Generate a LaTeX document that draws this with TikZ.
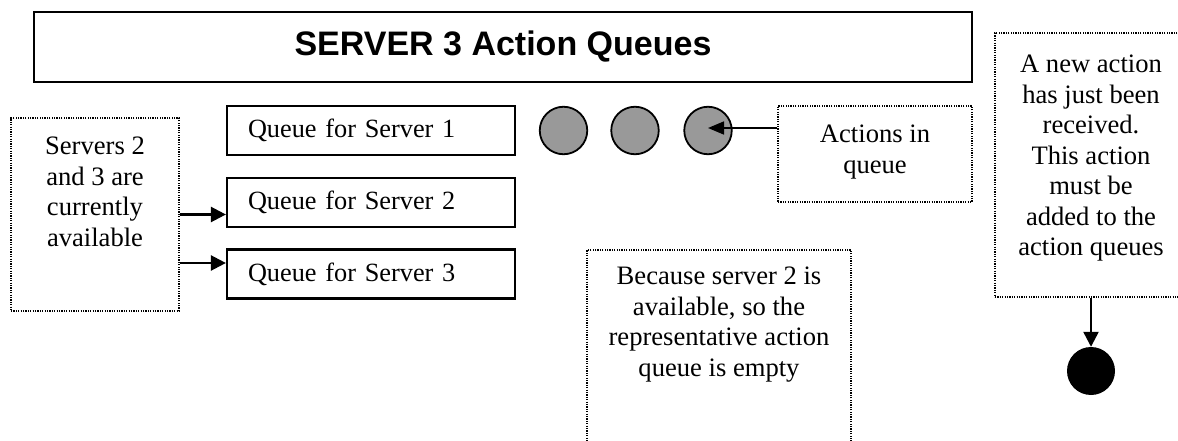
\documentclass[tikz,border=0pt]{standalone}
\usepackage{fontspec}
\setmainfont{Liberation Serif}
\newfontfamily\titlefont{Liberation Sans}
\usetikzlibrary{arrows.meta}
\tikzset{
  solidbox/.style={draw, line width=2.2pt, rectangle, inner sep=0pt},
  notebox/.style={draw, line width=1.3pt, dash pattern=on 1.2pt off 1.2pt, rectangle, inner sep=0pt},
  qbox/.style={solidbox, minimum height=49pt, text width=246pt, inner xsep=21pt,
    align=left, font=\fontsize{26.3}{30.5}\selectfont},
  notetext/.style={anchor=north, inner sep=0pt, align=center, font=\fontsize{26.6}{30.5}\selectfont},
  action/.style={circle, draw, line width=1.8pt, fill=black!40, minimum size=47.5pt, inner sep=0pt},
  newdot/.style={circle, fill=black, minimum size=48pt, inner sep=0pt},
  thickarr/.style={line width=2.4pt, -{Triangle[length=15pt,width=15pt]}},
  thinarr/.style={line width=1.6pt, -{Triangle[length=16pt,width=13pt]}},
}
\begin{document}
\begin{tikzpicture}[x=1pt, y=-1pt]
  \useasboundingbox (0,0) rectangle (1178,441);
  \fill[white] (0,0) rectangle (1178,441);

  % heading
  \node[solidbox, minimum width=938pt, minimum height=70pt,
        font=\titlefont\bfseries\fontsize{34}{40}\selectfont] (title) at (503,47) {SERVER 3 Action Queues};

  % the three action queues
  \node[qbox] (q1) at (371,130.5) {Queue for Server 1};
  \node[qbox] (q2) at (371,202.5) {Queue for Server 2};
  \node[qbox] (q3) at (371,274) {Queue for Server 3};

  % queued actions
  \node[action] (a1) at (563.5,130.5) {};
  \node[action] (a2) at (635,130.5) {};
  \node[action] (a3) at (708,130.5) {};

  % notes
  \node[notebox, minimum width=168pt, minimum height=193pt] (avail) at (95,214.5) {};
  \node[notetext] (availtext) at (95,137) {Servers 2\\and 3 are\\currently\\available};

  \node[notebox, minimum width=194pt, minimum height=96pt] (inq) at (875,154) {};
  \node[notetext] (inqtext) at (875,125) {Actions in\\queue};

  \node[notebox, minimum width=192pt, minimum height=264pt] (newact) at (1091,165) {};
  \node[notetext] (newacttext) at (1091,55) {A new action\\has just been\\received.\\This action\\must be\\added to the\\action queues};

  \node[notebox, minimum width=264pt, minimum height=230pt] (empty) at (719,365) {};
  \node[notetext] (emptytext) at (719,267) {Because server 2 is\\available, so the\\representative action\\queue is empty};

  % the newly received action
  \node[newdot] (new) at (1091,371) {};

  % connectors
  \draw[thickarr] (avail.east) -- (avail.east -| q2.west);
  \draw[thickarr] ([yshift=11pt]q3.west -| avail.east) -- ([yshift=11pt]q3.west);
  \draw[thinarr] ([yshift=2.5pt]a3.center -| inq.west) -- ([yshift=2.5pt]a3.center);
  \draw[thickarr] (newact.south) -- (new.north);
\end{tikzpicture}
\end{document}
